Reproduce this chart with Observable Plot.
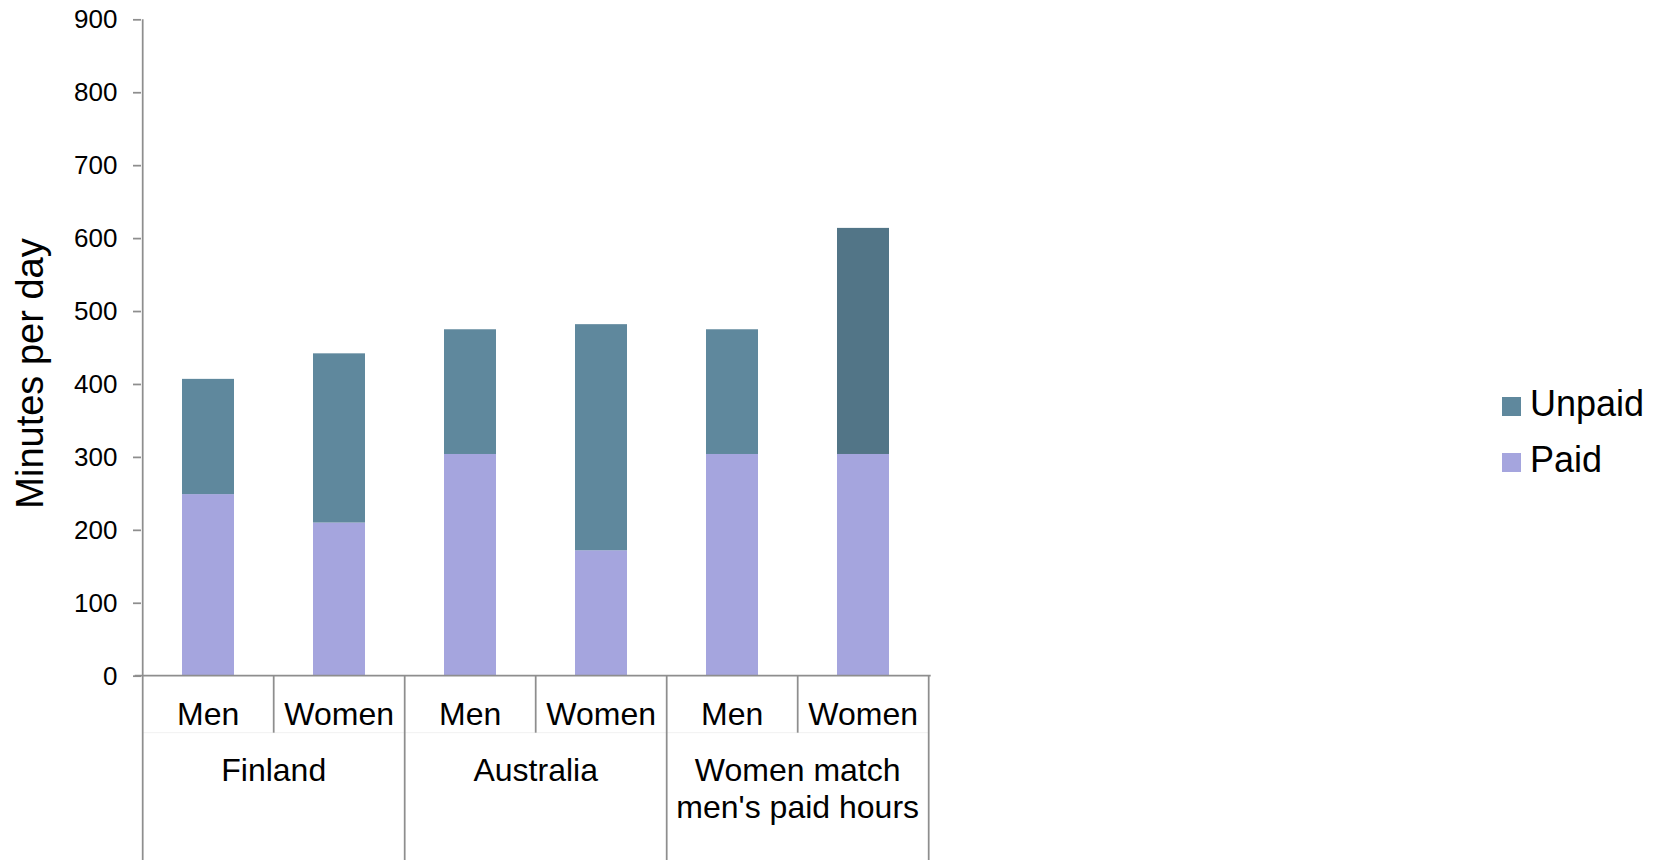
<!DOCTYPE html>
<html>
<head>
<meta charset="utf-8">
<script src="https://cdn.jsdelivr.net/npm/d3@7"></script>
<script src="https://cdn.jsdelivr.net/npm/@observablehq/plot@0.6"></script>
<style>
  html, body { margin: 0; padding: 0; background: #fff; }
  #chart svg { display: block; }
</style>
</head>
<body>
<div id="chart"></div>
<script>
// Daily minutes of paid and unpaid work, by country and sex
const groups = ["Finland", "Australia", "Women match\nmen's paid hours"];
const sexes = ["Men", "Women"];
const paidMinutes = [249, 210, 304, 172, 304, 304];
const unpaidMinutes = [158, 232, 171, 310, 171, 310];
const yTicks = [0, 100, 200, 300, 400, 500, 600, 700, 800, 900];
const seriesNames = ["Paid", "Unpaid"];
const yTitle = "Minutes per day";

const palette = {Paid: "#A5A5DE", Unpaid: "#5F889D", UnpaidScenario: "#527587"};
const axisColor = "#8e8e8e";
const font = "'Liberation Sans', Arial, Helvetica, sans-serif";
const barPadding = 0.6;

// one x category per (group, sex) pair
const keys = groups.flatMap(g => sexes.map(s => `${g}|${s}`));
const rows = keys.flatMap((key, i) => seriesNames.map(type => ({
  key,
  group: groups[Math.floor(i / 2)],
  sex: sexes[i % 2],
  type,
  value: type === "Paid" ? paidMinutes[i] : unpaidMinutes[i]
})));

// the scenario bar for women gets a darker unpaid segment
const fillFor = d =>
  d.type === "Unpaid" && d.group === groups[2] && d.sex === "Women" ? palette.UnpaidScenario : palette[d.type];

// two-level category axis: sex labels, group labels and separators
function categoryAxis(index, scales, values, dims) {
  const {x, y} = scales;
  const step = x(keys[1]) - x(keys[0]);
  const bw = step * (1 - barPadding);
  const xStart = x(keys[0]) - (step - bw) / 2;
  const xEnd = xStart + step * keys.length;
  const y0 = y(0), yTop = y(yTicks[yTicks.length - 1]);
  const g = d3.create("svg:g").attr("font-family", font);
  const line = (x1, y1, x2, y2, stroke = axisColor, w = 1.75) =>
    g.append("line").attr("x1", x1).attr("y1", y1).attr("x2", x2).attr("y2", y2)
      .attr("stroke", stroke).attr("stroke-width", w);

  line(xStart, y0 + 57, xEnd, y0 + 57, "#f1f1f1", 1);
  for (let i = 0; i <= keys.length; i++) {
    const bx = xStart + i * step;
    line(bx, y0, bx, i % 2 === 0 ? dims.height : y0 + 57);
  }
  line(xStart, yTop, xStart, y0);
  line(xStart - 8, y0, xEnd + 2, y0);

  keys.forEach((k, i) => {
    g.append("text").attr("x", x(k) + bw / 2).attr("y", y0 + 49)
      .attr("text-anchor", "middle").attr("font-size", 32).attr("fill", "#000")
      .text(sexes[i % 2]);
  });
  groups.forEach((name, j) => {
    const cx = xStart + (2 * j + 1) * step;
    name.split("\n").forEach((ln, k) => {
      g.append("text").attr("x", cx).attr("y", y0 + 105 + k * 37)
        .attr("text-anchor", "middle").attr("font-size", 32).attr("fill", "#000")
        .text(ln);
    });
  });

  g.append("text")
    .attr("transform", `translate(43, ${(yTop + y0) / 2 + 26}) rotate(-90)`)
    .attr("text-anchor", "middle").attr("font-size", 38).attr("fill", "#000")
    .text(yTitle);
  return g.node();
}

// legend to the right of the plot area
function legend(index, scales, values, dims) {
  const g = d3.create("svg:g").attr("font-family", font).attr("text-anchor", "start");
  ["Unpaid", "Paid"].forEach((name, i) => {
    const top = 397 + i * 56;
    g.append("rect").attr("x", 1502).attr("y", top).attr("width", 19).attr("height", 19)
      .attr("fill", palette[name]);
    g.append("text").attr("x", 1530).attr("y", top + 19).attr("font-size", 36)
      .attr("text-anchor", "start").attr("fill", "#000").text(name);
  });
  return g.node();
}

const chart = Plot.plot({
  width: 1665,
  height: 860,
  marginLeft: 141,
  marginRight: 734.3,
  marginTop: 19.3,
  marginBottom: 184.3,
  style: {fontFamily: font, background: "#fff", color: "#000"},
  x: {type: "band", domain: keys, paddingInner: barPadding, paddingOuter: barPadding / 2, axis: null},
  y: {domain: [0, 900], axis: null},
  color: {type: "identity"},
  marks: [
    Plot.barY(rows, Plot.stackY({x: "key", y: "value", z: "type", fill: fillFor})),
    Plot.axisY({ticks: yTicks, tickSize: 8, tickPadding: 16, fontSize: 26, stroke: axisColor,
      strokeWidth: 1.75, strokeOpacity: 1, fill: "#000", label: null}),
    categoryAxis,
    legend
  ]
});

document.getElementById("chart").appendChild(chart);
</script>
</body>
</html>
